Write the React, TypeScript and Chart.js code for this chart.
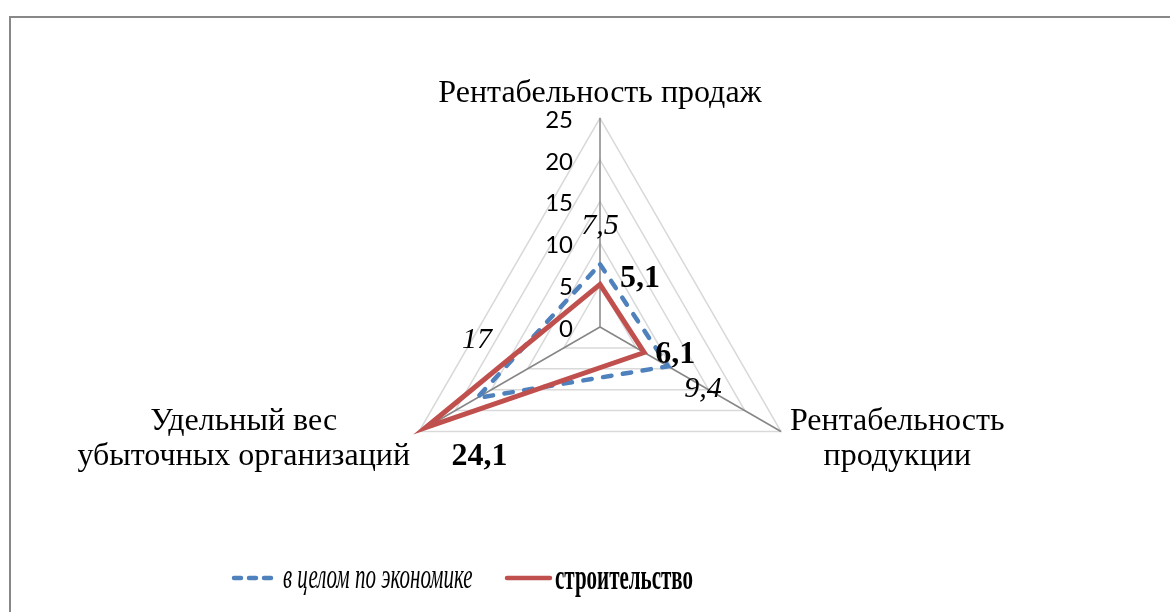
import React, { useEffect, useRef } from "react";
import { Chart, registerables } from "chart.js";

Chart.register(...registerables);

// ---- data ----
const categories: string[][] = [
  ["Рентабельность продаж"],
  ["Рентабельность", "продукции"],
  ["Удельный вес", "убыточных организаций"],
];
const seriesNames = ["в целом по экономике", "строительство"];
const economyValues = [7.5, 9.4, 17];
const constructionValues = [5.1, 6.1, 24.1];
const tickValues = [0, 5, 10, 15, 20, 25];

// ---- label placement (offsets from the data point, px) ----
const economyLabelOffsets = [
  [0, -38],
  [35, 23],
  [0, -58],
];
const constructionLabelOffsets = [
  [40, -6],
  [31, 2],
  [54, 29],
];

const BLUE = "#4F81BD";
const RED = "#C0504D";
const SERIF = "'Liberation Serif', 'Times New Roman', serif";

const fmt = (v: number) => String(v).replace(".", ",");

export default function App() {
  const ref = useRef<HTMLCanvasElement>(null);

  useEffect(() => {
    const canvas = ref.current;
    if (!canvas) return;

    const textPlugin = {
      id: "customText",
      beforeDatasetsDraw(chart: any) {
        const scale = chart.scales.r;
        const ctx = chart.ctx;
        ctx.save();
        ctx.font = "24px Lato";
        ctx.fillStyle = "#000";
        ctx.textAlign = "right";
        ctx.textBaseline = "middle";
        tickValues.forEach((v) => {
          const d = scale.getDistanceFromCenterForValue(v);
          ctx.fillText(String(v), scale.xCenter - 27, scale.yCenter - d + 2);
        });
        ctx.restore();
      },
      afterDraw(chart: any) {
        const scale = chart.scales.r;
        const ctx = chart.ctx;
        ctx.save();
        ctx.fillStyle = "#000";

        // point (axis) labels
        ctx.font = `32px ${SERIF}`;
        ctx.textBaseline = "alphabetic";
        ctx.textAlign = "center";
        categories.forEach((lines, i) => {
          const p = scale.getPointPosition(i, scale.drawingArea);
          const maxW = Math.max(...lines.map((l) => ctx.measureText(l).width));
          if (Math.abs(p.x - scale.xCenter) < 2) {
            lines.forEach((l, k) => ctx.fillText(l, p.x, p.y - 16.5 - (lines.length - 1 - k) * 35));
          } else {
            const cx = p.x > scale.xCenter ? p.x + 9 + maxW / 2 : p.x - 9 - maxW / 2;
            lines.forEach((l, k) => ctx.fillText(l, cx, p.y - 1.5 + k * 34.5));
          }
        });

        // data labels
        ctx.textBaseline = "middle";
        ctx.textAlign = "center";
        const metaE = chart.getDatasetMeta(0);
        const metaC = chart.getDatasetMeta(1);
        ctx.font = `italic 30px ${SERIF}`;
        economyValues.forEach((v, i) => {
          const el = metaE.data[i];
          const [dx, dy] = economyLabelOffsets[i];
          ctx.fillText(fmt(v), el.x + dx, el.y + dy);
        });
        ctx.font = `bold 32px ${SERIF}`;
        constructionValues.forEach((v, i) => {
          const el = metaC.data[i];
          const [dx, dy] = constructionLabelOffsets[i];
          ctx.fillText(fmt(v), el.x + dx, el.y + dy);
        });

        // legend
        const ly = 578;
        ctx.lineWidth = 4.5;
        ctx.lineCap = "round";
        ctx.strokeStyle = BLUE;
        ctx.setLineDash([7, 8]);
        ctx.beginPath();
        ctx.moveTo(234, ly);
        ctx.lineTo(271, ly);
        ctx.stroke();
        ctx.setLineDash([]);
        ctx.strokeStyle = RED;
        ctx.beginPath();
        ctx.moveTo(507, ly);
        ctx.lineTo(550, ly);
        ctx.stroke();

        ctx.textAlign = "left";
        ctx.textBaseline = "alphabetic";
        ctx.save();
        ctx.font = `italic 35px ${SERIF}`;
        ctx.translate(283, 588);
        ctx.scale(0.6, 1);
        ctx.fillText(seriesNames[0], 0, 0);
        ctx.restore();
        ctx.save();
        ctx.font = `bold 35px ${SERIF}`;
        ctx.translate(555, 589);
        ctx.scale(0.6, 1);
        ctx.fillText(seriesNames[1], 0, 0);
        ctx.restore();

        ctx.restore();
      },
    };

    const chart = new Chart(canvas, {
      type: "radar",
      data: {
        labels: categories.map((c) => c.join(" ")),
        datasets: [
          {
            label: seriesNames[0],
            data: economyValues,
            borderColor: BLUE,
            backgroundColor: "transparent",
            borderWidth: 4.5,
            borderDash: [8.5, 11.5],
            borderCapStyle: "round",
            borderJoinStyle: "miter",
            fill: false,
            pointRadius: 0,
            pointHoverRadius: 0,
            order: 1,
          },
          {
            label: seriesNames[1],
            data: constructionValues,
            borderColor: RED,
            backgroundColor: "transparent",
            borderWidth: 5,
            borderJoinStyle: "miter",
            fill: false,
            pointRadius: 0,
            pointHoverRadius: 0,
            order: 0,
          },
        ],
      },
      options: {
        responsive: false,
        animation: false,
        events: [],
        layout: { padding: { top: 118, bottom: 75, left: 200, right: 170 } },
        plugins: {
          legend: { display: false },
          tooltip: { enabled: false },
          title: { display: false },
        },
        scales: {
          r: {
            min: 0,
            max: 25,
            ticks: { stepSize: 5, display: false },
            grid: { color: "#D9D9D9", lineWidth: 1.5 },
            angleLines: { color: "#868686", lineWidth: 1.5 },
            pointLabels: { display: false },
          },
        },
      },
      plugins: [textPlugin],
    } as any);

    return () => chart.destroy();
  }, []);

  return (
    <div
      style={{
        position: "absolute",
        left: 0,
        top: 0,
        width: 1170,
        height: 612,
        overflow: "hidden",
        background: "#fff",
      }}
    >
      <div
        style={{
          position: "absolute",
          left: 9,
          top: 16,
          width: 1300,
          height: 800,
          border: "2px solid #888",
          boxSizing: "border-box",
        }}
      />
      <canvas
        ref={ref}
        width={1170}
        height={612}
        style={{ position: "absolute", left: 0, top: 0, width: 1170, height: 612 }}
      />
    </div>
  );
}
